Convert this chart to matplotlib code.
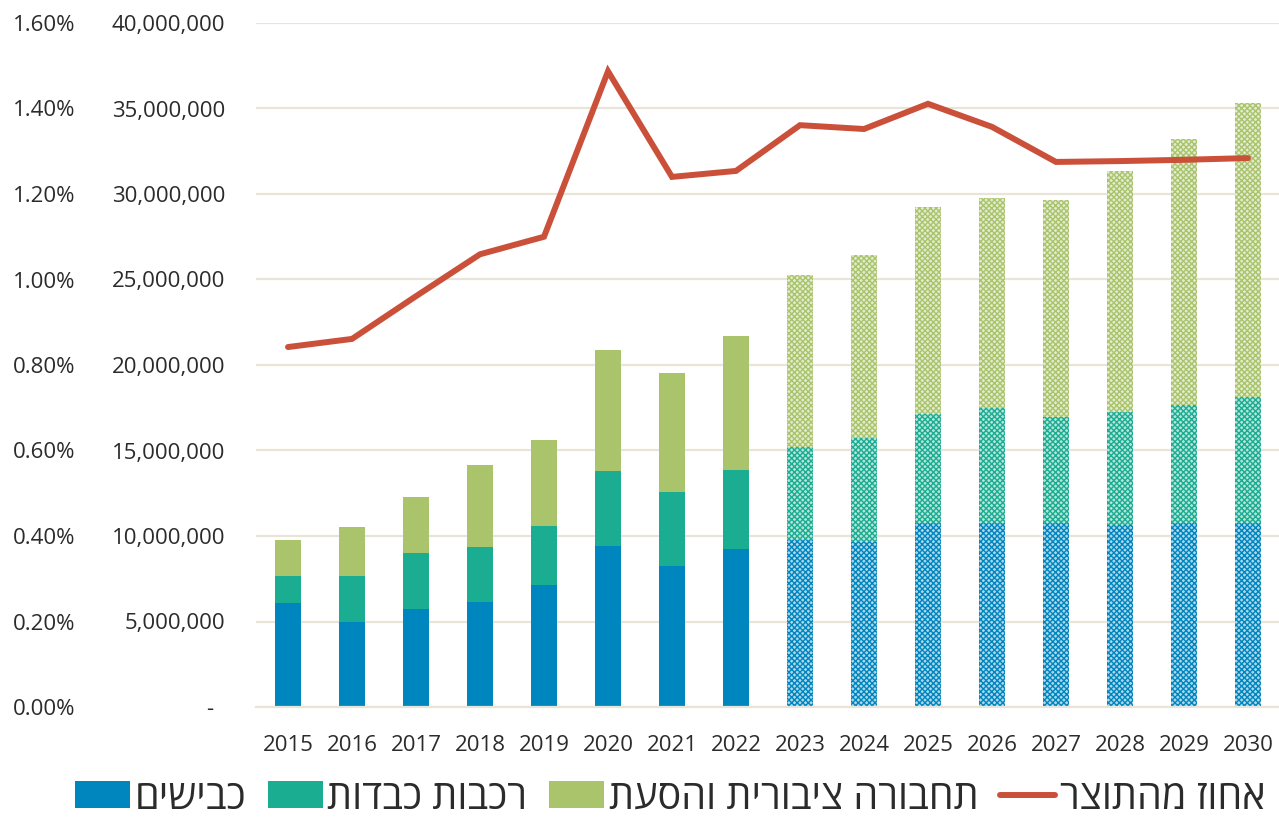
import matplotlib
matplotlib.use('Agg')
import matplotlib.pyplot as plt
from matplotlib.ticker import FuncFormatter
import numpy as np

# נתונים (מיליוני ש"ח) - 2023 והלאה הן תחזית
years = [2015, 2016, 2017, 2018, 2019, 2020, 2021, 2022,
         2023, 2024, 2025, 2026, 2027, 2028, 2029, 2030]
roads = [6.08, 4.97, 5.73, 6.14, 7.13, 9.42, 8.25, 9.24,
         9.77, 9.65, 10.76, 10.76, 10.76, 10.64, 10.76, 10.76]
heavy_rail = [1.58, 2.69, 3.27, 3.22, 3.45, 4.38, 4.32, 4.62,
              5.43, 6.08, 6.37, 6.73, 6.20, 6.61, 6.90, 7.37]
public_transport = [2.11, 2.87, 3.28, 4.79, 5.03, 7.08, 6.96, 7.84,
                    10.06, 10.70, 12.11, 12.28, 12.69, 14.10, 15.56, 17.19]
gdp_share = [0.842, 0.861, 0.961, 1.059, 1.100, 1.487, 1.240, 1.254,
             1.361, 1.352, 1.411, 1.357, 1.275, 1.277, 1.280, 1.284]
first_forecast_year = 2023

labels = ['כבישים', 'רכבות כבדות', 'תחבורה ציבורית והסעת', 'אחוז מהתוצר']
colors = ['#0086BF', '#1BAD91', '#A9C46B']
line_color = '#CB503A'
grid_color = '#E8E4D8'
text_color = '#2B2B2B'


def rtl(s):
    # matplotlib אינו מבצע bidi - הופכים לסדר חזותי
    return s[::-1]


def light(c, f=0.5):
    r, g, b = matplotlib.colors.to_rgb(c)
    return (r + (1 - r) * f, g + (1 - g) * f, b + (1 - b) * f)


plt.rcParams['font.family'] = ['Open Sans', 'DejaVu Sans']
plt.rcParams['hatch.linewidth'] = 1.0

fig = plt.figure(figsize=(12.79, 8.21), dpi=100)
ax = fig.add_axes([256 / 1279, 114 / 821, 1024 / 1279, 684 / 821])

x = np.arange(len(years))
roads_v = np.array(roads) * 1e6
rail_v = np.array(heavy_rail) * 1e6
pt_v = np.array(public_transport) * 1e6
actual = np.array(years) < first_forecast_year
fc = ~actual
w = 0.41

# שנים בפועל - מילוי מלא
ax.bar(x[actual], roads_v[actual], w, color=colors[0], label=rtl(labels[0]), zorder=2)
ax.bar(x[actual], rail_v[actual], w, bottom=roads_v[actual], color=colors[1],
       label=rtl(labels[1]), zorder=2)
ax.bar(x[actual], pt_v[actual], w, bottom=(roads_v + rail_v)[actual], color=colors[2],
       label=rtl(labels[2]), zorder=2)

# תחזית - מרקם משובץ
bottoms = [np.zeros(len(x)), roads_v, roads_v + rail_v]
for vals, bot, c in zip([roads_v, rail_v, pt_v], bottoms, colors):
    ax.bar(x[fc], vals[fc], w, bottom=bot[fc], facecolor=light(c, 0.68), edgecolor=c,
           hatch='xxxxxx', linewidth=0, zorder=2)

ax.set_xlim(-0.5, len(years) - 0.5)
ax.set_ylim(0, 40e6)
ax.set_yticks(np.arange(0, 40e6 + 1, 5e6))
ax.yaxis.set_major_formatter(FuncFormatter(lambda v, p: '-  ' if v == 0 else f'{v:,.0f}'))
ax.set_xticks(x)
ax.set_xticklabels([str(y) for y in years])
ax.tick_params(axis='both', length=0, labelsize=16, colors=text_color)
ax.tick_params(axis='y', pad=22)
ax.tick_params(axis='x', pad=20)
ax.grid(axis='y', color=grid_color, linewidth=1.6)
ax.set_axisbelow(True)
for s in ['top', 'right', 'left']:
    ax.spines[s].set_visible(False)
ax.spines['bottom'].set_color(grid_color)
ax.spines['bottom'].set_linewidth(1.6)

# ציר אחוזים משני - גם הוא בצד שמאל
ax2 = ax.twinx()
ax2.plot(x, gdp_share, color=line_color, linewidth=4.3, solid_capstyle='round',
         solid_joinstyle='miter', label=rtl(labels[3]), zorder=3)
ax2.set_ylim(0, 1.6)
ax2.set_yticks(np.arange(0, 1.61, 0.2))
ax2.yaxis.set_major_formatter(FuncFormatter(lambda v, p: f'{v:.2f}%'))
ax2.yaxis.set_ticks_position('left')
ax2.tick_params(axis='y', length=0, labelsize=16, colors=text_color, pad=130)
for s in ax2.spines.values():
    s.set_visible(False)

h1, l1 = ax.get_legend_handles_labels()
h2, l2 = ax2.get_legend_handles_labels()
fig.legend(h1 + h2, l1 + l2, loc='lower center', bbox_to_anchor=(0.524, -0.026),
           ncol=4, frameon=False, fontsize=28.5, handlelength=1.38, handleheight=0.65,
           handletextpad=0.12, columnspacing=0.55, borderpad=0.1,
           labelcolor=text_color)

fig.savefig('out.png', dpi=100)
